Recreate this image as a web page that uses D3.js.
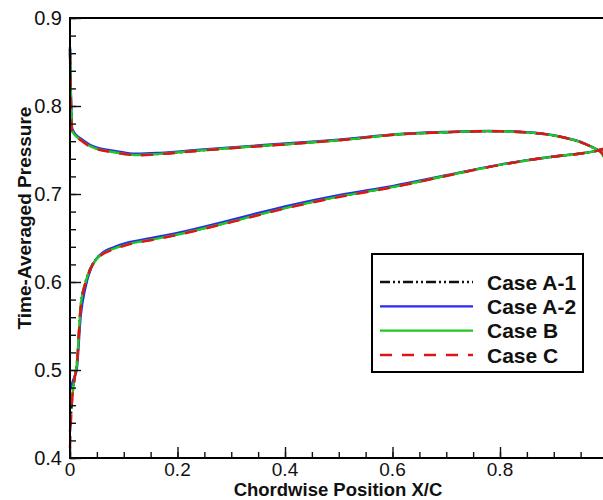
<!DOCTYPE html>
<html>
<head>
<meta charset="utf-8">
<script src="https://cdn.jsdelivr.net/npm/d3@7"></script>
<style>
  html, body { margin: 0; padding: 0; background: #fff; }
  svg { display: block; }
  text { font-family: "Liberation Sans", Arial, sans-serif; fill: #111; }
</style>
</head>
<body>
<svg id="chart" width="603" height="500"></svg>
<script>
// Chordwise stations on the upper and lower branches
const xUpper = [0, 0.001, 0.002, 0.004, 0.01, 0.02, 0.037, 0.05, 0.074, 0.1, 0.124, 0.167, 0.242, 0.3, 0.428, 0.5, 0.614, 0.7, 0.781, 0.85, 0.9, 0.93, 0.95, 0.967, 0.98, 0.99, 0.998];
const xLower = [0, 0.001, 0.004, 0.008, 0.0124, 0.02, 0.028, 0.04, 0.05, 0.062, 0.08, 0.105, 0.15, 0.2, 0.3, 0.4, 0.5, 0.6, 0.7, 0.8, 0.9, 0.95, 0.98, 0.997];

// Time-averaged pressure, upper branch
const upperA1 = [0.865, 0.83, 0.80, 0.772, 0.767, 0.762, 0.7548, 0.7516, 0.7486, 0.746, 0.7445, 0.7457, 0.7495, 0.7523, 0.7578, 0.7612, 0.7679, 0.7702, 0.7714, 0.770, 0.7665, 0.7625, 0.759, 0.7545, 0.7505, 0.746, 0.737];
const upperA2 = [0.867, 0.835, 0.805, 0.7745, 0.768, 0.763, 0.7558, 0.7528, 0.7498, 0.7472, 0.7457, 0.7467, 0.7503, 0.753, 0.7585, 0.7618, 0.7683, 0.7705, 0.7716, 0.7702, 0.7667, 0.7627, 0.7592, 0.7547, 0.7507, 0.7467, 0.7382];
const upperB  = [0.864, 0.83, 0.80, 0.772, 0.7665, 0.7615, 0.7545, 0.7513, 0.7483, 0.7458, 0.7443, 0.7456, 0.7494, 0.7522, 0.7577, 0.7611, 0.7679, 0.7702, 0.7714, 0.770, 0.7665, 0.7625, 0.759, 0.7545, 0.7505, 0.7455, 0.736];
const upperC  = [0.860, 0.825, 0.795, 0.771, 0.766, 0.761, 0.754, 0.751, 0.748, 0.7455, 0.744, 0.7453, 0.7492, 0.752, 0.7576, 0.761, 0.7678, 0.7702, 0.7714, 0.770, 0.7665, 0.7625, 0.759, 0.7545, 0.7505, 0.7465, 0.738];

// Time-averaged pressure, lower branch
const lowerA1 = [0.43, 0.44, 0.468, 0.489, 0.505, 0.573, 0.598, 0.618, 0.6268, 0.633, 0.638, 0.643, 0.6483, 0.6543, 0.6688, 0.6843, 0.6973, 0.708, 0.7208, 0.7331, 0.7425, 0.746, 0.749, 0.752];
const lowerA2 = [0.478, 0.48, 0.485, 0.492, 0.5, 0.562, 0.592, 0.617, 0.627, 0.634, 0.6392, 0.6443, 0.6497, 0.6557, 0.6705, 0.686, 0.6988, 0.709, 0.7213, 0.7334, 0.7426, 0.7461, 0.7491, 0.7521];
const lowerB  = [0.458, 0.462, 0.47, 0.489, 0.505, 0.573, 0.598, 0.6175, 0.6265, 0.6325, 0.6375, 0.6425, 0.648, 0.654, 0.6685, 0.684, 0.697, 0.7078, 0.7207, 0.7331, 0.7425, 0.746, 0.749, 0.752];
const lowerC  = [0.411, 0.43, 0.466, 0.488, 0.504, 0.572, 0.597, 0.617, 0.626, 0.632, 0.637, 0.642, 0.6475, 0.6535, 0.668, 0.6835, 0.6965, 0.7075, 0.7205, 0.733, 0.7425, 0.746, 0.749, 0.752];

const caseNames = ["Case A-1", "Case A-2", "Case B", "Case C"];
const xTicks = [0, 0.2, 0.4, 0.6, 0.8];
const yTicks = [0.4, 0.5, 0.6, 0.7, 0.8, 0.9];
const xTitle = "Chordwise Position X/C";
const yTitle = "Time-Averaged Pressure";

const series = [
  { name: caseNames[0], upper: upperA1, lower: lowerA1, color: "#111111", dash: "10,3,2,3,2,3" },
  { name: caseNames[1], upper: upperA2, lower: lowerA2, color: "#2a2af2", dash: null },
  { name: caseNames[2], upper: upperB,  lower: lowerB,  color: "#1ec81e", dash: null },
  { name: caseNames[3], upper: upperC,  lower: lowerC,  color: "#e01414", dash: "12,10" }
];

const svg = d3.select("#chart");
const plotL = 70, plotR = 607.5, plotT = 18, plotB = 458;

const x = d3.scaleLinear().domain([0, 1]).range([plotL, plotR]);
const y = d3.scaleLinear().domain([0.4, 0.9]).range([plotB, plotT]);

const line = d3.line()
  .x(d => x(d[0]))
  .y(d => y(d[1]))
  .curve(d3.curveMonotoneX);

// Pressure curves
const curves = svg.append("g");
series.forEach(s => {
  [[xUpper, s.upper], [xLower, s.lower]].forEach(([xs, ps]) => {
    curves.append("path")
      .datum(xs.map((v, i) => [v, ps[i]]))
      .attr("d", line)
      .attr("fill", "none")
      .attr("stroke", s.color)
      .attr("stroke-width", 2.4)
      .attr("stroke-dasharray", s.dash);
  });
});

// Frame
svg.append("rect")
  .attr("x", plotL).attr("y", plotT)
  .attr("width", plotR - plotL).attr("height", plotB - plotT)
  .attr("fill", "none").attr("stroke", "#000").attr("stroke-width", 2);

// Bottom axis with inward ticks
const xAxis = svg.append("g").attr("transform", `translate(0,${plotB})`);
xAxis.append("g").call(d3.axisTop(x).tickValues(d3.range(0, 1.0001, 0.05)).tickSize(6).tickFormat(""));
xAxis.append("g").call(d3.axisTop(x).tickValues(xTicks).tickSize(11).tickFormat(""));
xAxis.selectAll(".domain").remove();
xAxis.selectAll("line").attr("stroke", "#111").attr("stroke-width", 1.4);

svg.append("g").selectAll("text").data(xTicks).join("text")
  .attr("x", d => x(d)).attr("y", plotB + 17.5)
  .attr("text-anchor", "middle").attr("font-size", 19)
  .text(d => d3.format("")(d));

// Left axis with inward ticks
const yAxis = svg.append("g").attr("transform", `translate(${plotL},0)`);
yAxis.append("g").call(d3.axisRight(y).tickValues(d3.range(0.4, 0.9001, 0.02)).tickSize(6).tickFormat(""));
yAxis.append("g").call(d3.axisRight(y).tickValues(yTicks).tickSize(11).tickFormat(""));
yAxis.selectAll(".domain").remove();
yAxis.selectAll("line").attr("stroke", "#111").attr("stroke-width", 1.4);

svg.append("g").selectAll("text").data(yTicks).join("text")
  .attr("x", plotL - 8).attr("y", d => y(d) + 7)
  .attr("text-anchor", "end").attr("font-size", 20)
  .text(d => d3.format(".1f")(d));

// Axis titles
svg.append("text")
  .attr("x", 338).attr("y", 496.3)
  .attr("text-anchor", "middle").attr("font-size", 18.5).attr("font-weight", "bold")
  .text(xTitle);

svg.append("text")
  .attr("transform", `translate(31,${(plotT + plotB) / 2 - 20}) rotate(-90)`)
  .attr("text-anchor", "middle").attr("font-size", 19).attr("font-weight", "bold")
  .text(yTitle);

// Legend
const lg = svg.append("g");
lg.append("rect")
  .attr("x", 372).attr("y", 254).attr("width", 211).attr("height", 118)
  .attr("fill", "#fff").attr("stroke", "#000").attr("stroke-width", 2);
const rowY = d3.scalePoint().domain(caseNames).range([282, 355]);
series.forEach(s => {
  lg.append("line")
    .attr("x1", 380).attr("x2", 473)
    .attr("y1", rowY(s.name)).attr("y2", rowY(s.name))
    .attr("stroke", s.color).attr("stroke-width", 2.4)
    .attr("stroke-dasharray", s.dash);
  lg.append("text")
    .attr("x", 487).attr("y", rowY(s.name) + 7.5)
    .attr("font-size", 21).attr("font-weight", "bold")
    .text(s.name);
});
</script>
</body>
</html>
